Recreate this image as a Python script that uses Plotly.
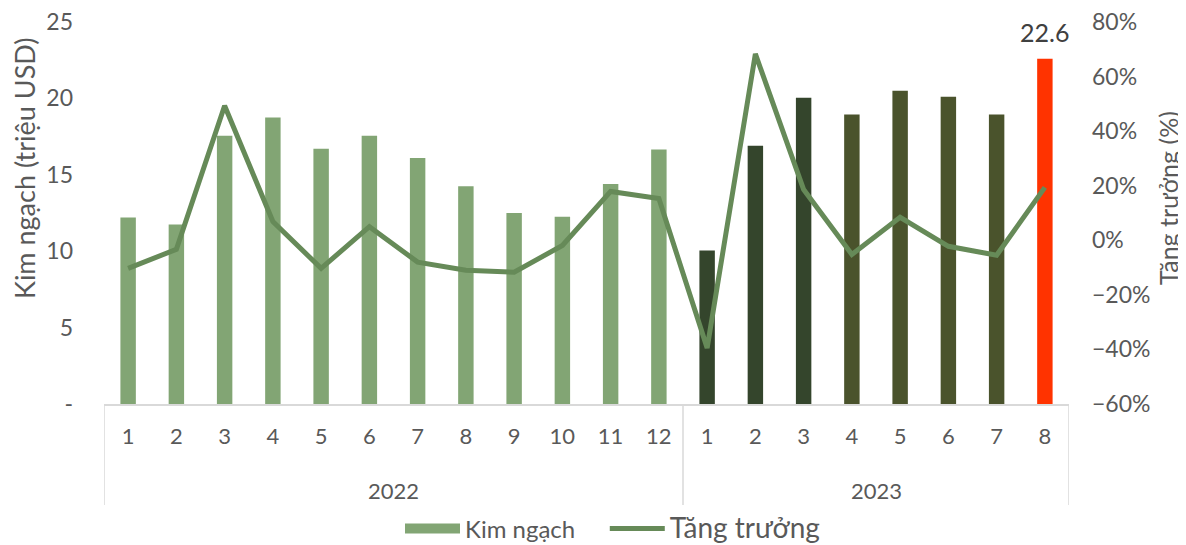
import plotly.graph_objects as go

years = ["2022"] * 12 + ["2023"] * 8
months = [str(m) for m in range(1, 13)] + [str(m) for m in range(1, 9)]
kim_ngach = [12.2, 11.75, 17.55, 18.75, 16.7, 17.55, 16.1, 14.25, 12.5, 12.25, 14.4, 16.65,
             10.05, 16.9, 20.05, 18.95, 20.5, 20.1, 18.95, 22.6]
tang_truong = [-0.103, -0.033, 0.493, 0.069, -0.103, 0.05, -0.08, -0.11, -0.117, -0.019, 0.179, 0.153,
               -0.395, 0.683, 0.186, -0.052, 0.084, -0.022, -0.055, 0.194]
bar_colors = ["#82A574"] * 12 + ["#34452C"] * 3 + ["#4A532C"] * 4 + ["#FF3300"]
y_ticks = [0, 5, 10, 15, 20, 25]
y_ticktext = ["-", "5", "10", "15", "20", "25"]
y2_ticks = [-0.6, -0.4, -0.2, 0, 0.2, 0.4, 0.6, 0.8]

FONT = "Lato"
GREY = "#595959"
LINE_GREY = "#D9D9D9"

# page has an 8px body margin: size the figure so it fills the window exactly
OFF = 8
W, H = 1186 - OFF, 545 - OFF
PL, PR, PT, PB = 104 - OFF, 117, 22 - OFF, 141
pw, ph = W - PL - PR, H - PT - PB
AXIS_Y = H - PB + OFF  # page y of the category axis line

pos = list(range(len(months)))

fig = go.Figure()
fig.add_trace(go.Bar(
    x=pos, y=kim_ngach, name="Kim ngạch",
    marker=dict(color=bar_colors, line=dict(width=0)), width=0.32,
    showlegend=False,
))
# legend entries
fig.add_trace(go.Scatter(
    x=[None], y=[None], mode="lines", name="Kim ngạch" + "\u00a0" * 4,
    line=dict(color="#82A574", width=17), showlegend=True,
))
fig.add_trace(go.Scatter(
    x=pos, y=tang_truong, name="<span style='font-size:28px'>Tăng trưởng</span>",
    mode="lines", line=dict(color="#668A58", width=5), yaxis="y2",
))

annotations = []
# data label on the latest bar
annotations.append(dict(
    x=pos[-1], y=kim_ngach[-1], xref="x", yref="y", text=f"{kim_ngach[-1]:.1f}",
    showarrow=False, yanchor="bottom", yshift=10,
    font=dict(size=25, color="#404040", family=FONT),
))

# year group labels and dividers of the two-level category axis
groups = []
for i, yv in enumerate(years):
    if not groups or groups[-1][0] != yv:
        groups.append([yv, i, i])
    else:
        groups[-1][2] = i

shapes = []
for yv, i0, i1 in groups:
    annotations.append(dict(
        x=(i0 + i1) / 2, y=-(490 - AXIS_Y) / ph, xref="x", yref="paper", text=yv, showarrow=False,
        font=dict(size=22, color=GREY, family=FONT), yanchor="middle",
    ))
edges = [groups[0][1] - 0.5] + [g[2] + 0.5 for g in groups]
for e in edges:
    shapes.append(dict(type="line", xref="x", yref="paper", x0=e, x1=e, y0=0,
                       y1=-(505 - AXIS_Y) / ph, line=dict(color=LINE_GREY, width=1.5)))

# axis titles (positions given in page pixels)
def px_to_paper(xp, yp):
    return (xp - OFF - PL) / pw, (H - PB - (yp - OFF)) / ph

ax_, ay_ = px_to_paper(24, 168)
annotations.append(dict(
    x=ax_, y=ay_, xref="paper", yref="paper", text="Kim ngạch (triệu USD)", textangle=-90,
    showarrow=False, xanchor="center", yanchor="middle",
    font=dict(size=27, color=GREY, family=FONT),
))
bx_, by_ = px_to_paper(1168, 198)
annotations.append(dict(
    x=bx_, y=by_, xref="paper", yref="paper", text="Tăng trưởng (%)", textangle=-90,
    showarrow=False, xanchor="center", yanchor="middle",
    font=dict(size=25, color=GREY, family=FONT),
))

fig.update_layout(
    width=W, height=H,
    margin=dict(l=PL, r=PR, t=PT, b=PB),
    paper_bgcolor="white", plot_bgcolor="white",
    font=dict(family=FONT, color=GREY, size=22),
    xaxis=dict(
        range=[-0.5, len(months) - 0.5], tickvals=pos, ticktext=months,
        showline=True, linecolor=LINE_GREY, linewidth=1.5, ticks="", showgrid=False,
        zeroline=False, tickfont=dict(size=22, color=GREY), ticklabelstandoff=12,
        automargin=False,
    ),
    yaxis=dict(
        range=[0, 25], tickvals=y_ticks, ticktext=y_ticktext, showgrid=False,
        zeroline=False, showline=False, ticks="", automargin=False,
        tickfont=dict(size=23, color=GREY), ticklabelstandoff=30, ticklabeloverflow="allow",
    ),
    yaxis2=dict(
        range=[-0.6, 0.8], tickvals=y2_ticks, tickformat=".0%", overlaying="y", side="right",
        showgrid=False, zeroline=False, showline=False, ticks="", automargin=False,
        tickfont=dict(size=23, color=GREY), ticklabelstandoff=22, ticklabeloverflow="allow",
    ),
    legend=dict(
        orientation="h", xref="container", yref="container", x=(400 - OFF) / W, xanchor="left",
        y=(545 - 529) / H, yanchor="middle", font=dict(size=24, color=GREY),
        traceorder="normal", itemwidth=55,
    ),
    annotations=annotations,
    shapes=shapes,
)

fig.write_html("out.html")
